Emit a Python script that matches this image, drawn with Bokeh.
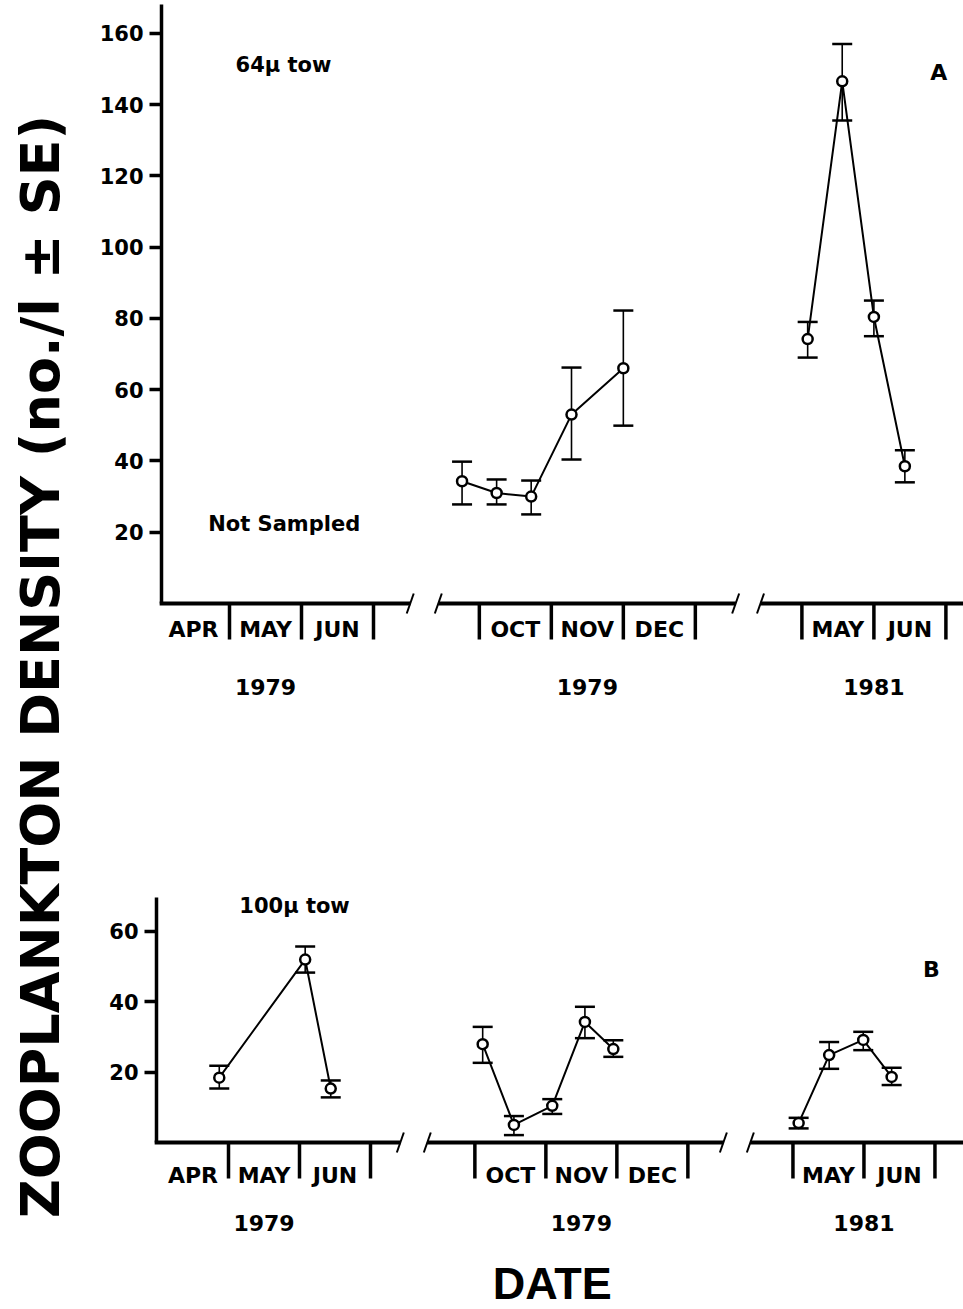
import math
from bokeh.plotting import figure
from bokeh.models import Range1d, LinearAxis, FixedTicker, Whisker, ColumnDataSource, TeeHead
from bokeh.embed import file_html
from bokeh.resources import INLINE
from bokeh.core.properties import value

W, H = 963, 1309
FONT = "DejaVu Sans"

# ---------------- data ----------------
# sample position = months elapsed since the first month of its axis segment
# Panel A : 64 micron tow
a_fall79_t = [-0.24, 0.24, 0.72, 1.28, 2.00]
a_fall79_y = [34.3, 31.0, 30.0, 53.0, 66.0]
a_fall79_lo = [27.8, 27.8, 25.0, 40.4, 49.9]
a_fall79_hi = [39.8, 34.8, 34.5, 66.2, 82.2]

a_spr81_t = [0.08, 0.56, 1.00, 1.43]
a_spr81_y = [74.2, 146.5, 80.4, 38.5]
a_spr81_lo = [69.0, 135.5, 75.0, 34.0]
a_spr81_hi = [79.0, 157.0, 85.0, 43.0]

# Panel B : 100 micron tow
b_spr79_t = [0.87, 2.08, 2.44]
b_spr79_y = [18.4, 51.9, 15.3]
b_spr79_lo = [15.3, 48.2, 12.8]
b_spr79_hi = [21.8, 55.6, 17.6]

b_fall79_t = [0.11, 0.55, 1.09, 1.55, 1.95]
b_fall79_y = [27.9, 5.0, 10.4, 34.2, 26.5]
b_fall79_lo = [22.6, 2.1, 8.1, 29.6, 24.3]
b_fall79_hi = [32.8, 7.5, 12.3, 38.5, 29.0]

b_spr81_t = [0.08, 0.51, 0.99, 1.39]
b_spr81_y = [5.5, 24.8, 29.1, 18.6]
b_spr81_lo = [4.0, 20.9, 26.2, 16.3]
b_spr81_hi = [7.0, 28.5, 31.4, 21.2]

seg_months = [["APR", "MAY", "JUN"], ["OCT", "NOV", "DEC"], ["MAY", "JUN"]]
seg_years = ["1979", "1979", "1981"]
a_yticks = [20, 40, 60, 80, 100, 120, 140, 160]
b_yticks = [20, 40, 60]

# ---------------- layout ----------------
SEG_FIRST = [0.0, 4.47, 8.95]      # axis position of each segment's first month
A_PX = dict(x0=157.0, xs=72.0, y0=603.0, ys=3.564)
B_PX = dict(x0=157.0, xs=71.0, y0=1142.0, ys=3.525)


def xr(m):
    return Range1d(-m["x0"] / m["xs"], (W - m["x0"]) / m["xs"])


def yr(m):
    return Range1d((m["y0"] - H) / m["ys"], m["y0"] / m["ys"])


p = figure(width=W, height=H, x_range=xr(A_PX), y_range=yr(A_PX),
           x_axis_location=None, y_axis_location=None, toolbar_location=None,
           output_backend="svg", min_border=0, title=None)
p.extra_x_ranges = {"b": xr(B_PX)}
p.extra_y_ranges = {"b": yr(B_PX)}
p.grid.visible = False
p.outline_line_color = None
p.background_fill_color = "white"
p.border_fill_color = "white"


def txt(kw, xs, ys, texts, size, align="center", angle=0.0):
    p.text(x=xs, y=ys, text=texts, text_font=value(FONT), text_font_style="bold",
           text_font_size=size, text_align=align, text_baseline="middle",
           text_color="black", angle=angle, **kw)


def panel(rn, m, axis_x, ytop, yticks, axis_lines, breaks, series,
          mlab_y, ylab_y, seg1_ticks):
    kw = dict(x_range_name=rn, y_range_name=rn)
    ax = LinearAxis(x_range_name=rn, y_range_name=rn, fixed_location=axis_x,
                    bounds=(0, ytop), ticker=FixedTicker(ticks=yticks))
    ax.axis_line_width = 3.5
    ax.axis_line_color = "black"
    ax.major_tick_line_width = 3.5
    ax.major_tick_line_color = "black"
    ax.major_tick_out = 12
    ax.major_tick_in = 0
    ax.minor_tick_out = 0
    ax.minor_tick_in = 0
    ax.major_label_standoff = 6
    ax.major_label_text_font = FONT
    ax.major_label_text_font_style = "bold"
    ax.major_label_text_font_size = "21px"
    ax.major_label_text_color = "black"
    p.add_layout(ax, "left")

    # broken x axis
    p.segment(x0=[a for a, b in axis_lines], y0=[0] * len(axis_lines),
              x1=[b for a, b in axis_lines], y1=[0] * len(axis_lines),
              line_width=4, line_color="black", **kw)
    dx = 3.5 / m["xs"]
    dy = 10.0 / m["ys"]
    p.segment(x0=[b - dx for b in breaks], y0=[-dy] * len(breaks),
              x1=[b + dx for b in breaks], y1=[dy] * len(breaks),
              line_width=2, line_color="black", **kw)

    # month boxes
    tick_len = 36.0 / m["ys"]
    tx = list(seg1_ticks)
    lx, lt, yx = [], [], []
    for s, months in enumerate(seg_months):
        f = SEG_FIRST[s]
        if s > 0:
            tx += [f + k for k in range(len(months) + 1)]
        lx += [f + k + 0.5 for k in range(len(months))]
        lt += months
        yx.append(f + len(months) / 2.0)
    p.segment(x0=tx, y0=[0] * len(tx), x1=tx, y1=[-tick_len] * len(tx),
              line_width=3.5, line_color="black", **kw)
    txt(kw, lx, [mlab_y] * len(lx), lt, "22px")
    txt(kw, yx, [ylab_y] * len(yx), seg_years, "22px")

    # data
    for s, t, y, lo, hi in series:
        x = [SEG_FIRST[s] + v for v in t]
        src = ColumnDataSource(dict(x=x, y=y, lo=lo, hi=hi))
        p.line("x", "y", source=src, line_width=2, line_color="black", **kw)
        wh = Whisker(source=src, base="x", upper="hi", lower="lo", dimension="height",
                     line_width=1.6, line_color="black",
                     upper_head=TeeHead(size=20, line_width=2.5),
                     lower_head=TeeHead(size=20, line_width=2.5),
                     x_range_name=rn, y_range_name=rn, level="underlay")
        p.add_layout(wh)
        p.scatter("x", "y", source=src, size=10, marker="circle", fill_color="white",
                  line_color="black", line_width=2.5, **kw)
    return kw


kwA = panel("default", A_PX, 0.056, 168.0, a_yticks,
            [(0.03, 3.51), (3.90, 8.03), (8.375, 12.0)],
            [3.51, 3.90, 8.03, 8.375],
            [(1, a_fall79_t, a_fall79_y, a_fall79_lo, a_fall79_hi),
             (2, a_spr81_t, a_spr81_y, a_spr81_lo, a_spr81_hi)],
            -7.3, -23.3, [1.0, 2.0, 3.0])

kwB = panel("b", B_PX, -0.014, 69.4, b_yticks,
            [(-0.04, 3.42), (3.80, 7.97), (8.35, 12.0)],
            [3.42, 3.80, 7.97, 8.35],
            [(0, b_spr79_t, b_spr79_y, b_spr79_lo, b_spr79_hi),
             (1, b_fall79_t, b_fall79_y, b_fall79_lo, b_fall79_hi),
             (2, b_spr81_t, b_spr81_y, b_spr81_lo, b_spr81_hi)],
            -9.4, -22.7, [1.0, 2.0, 3.0])

# annotations
txt(kwA, [1.75], [151.2], ["64\u00b5 tow"], "21px")
txt(kwA, [10.85], [149.0], ["A"], "22px")
txt(kwA, [1.76], [22.2], ["Not Sampled"], "21px")
txt(kwB, [1.93], [67.2], ["100\u00b5 tow"], "21px")
txt(kwB, [10.9], [49.1], ["B"], "22px")

# axis titles
txt(kwA, [-1.625], [-17.7], ["ZOOPLANKTON DENSITY (no./l \u00b1 SE)"], "54px", angle=math.pi / 2)
p.text(x=[5.56], y=[-40.0], text=["DATE"], text_font=value("Liberation Sans"),
       text_font_style="bold", text_font_size="45px", text_align="center",
       text_baseline="middle", text_color="black", **kwB)

open("out.html", "w").write(file_html(p, INLINE))
